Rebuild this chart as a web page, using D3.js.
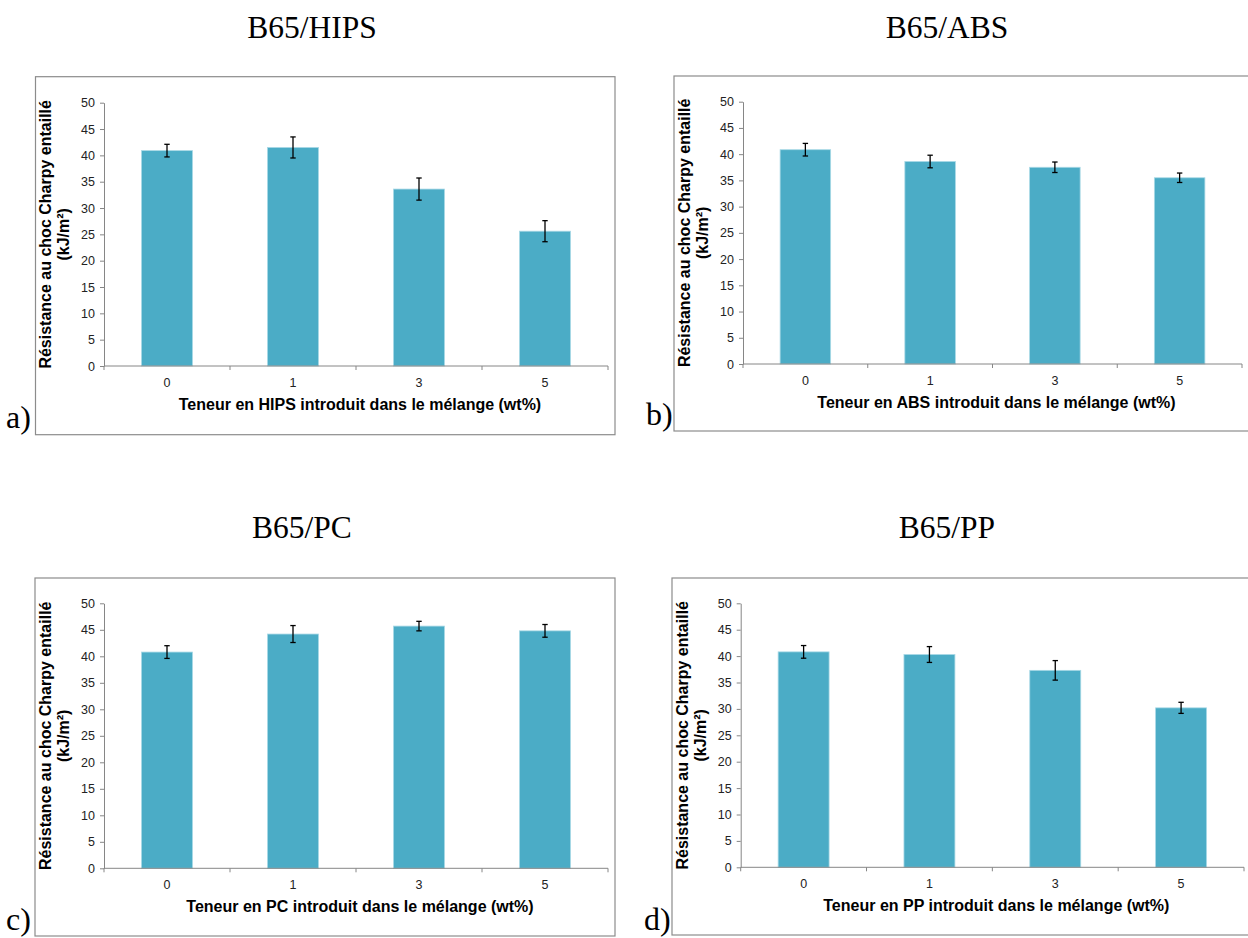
<!DOCTYPE html>
<html>
<head>
<meta charset="utf-8">
<script src="https://cdn.jsdelivr.net/npm/d3@7"></script>
<style>
  html, body { margin: 0; padding: 0; background: #fff; }
  svg { display: block; }
</style>
</head>
<body>
<svg id="chart" width="1248" height="938"></svg>
<script>
// ---- data ----
const categories = ["0", "1", "3", "5"];
const panelTitles = ["B65/HIPS", "B65/ABS", "B65/PC", "B65/PP"];
const panelLetters = ["a)", "b)", "c)", "d)"];
const blendNames = ["HIPS", "ABS", "PC", "PP"];
const hipsValues = [40.9, 41.5, 33.6, 25.6];
const hipsErrors = [1.2, 2.0, 2.1, 2.0];
const absValues = [40.85, 38.6, 37.5, 35.5];
const absErrors = [1.2, 1.2, 1.0, 0.9];
const pcValues = [40.8, 44.2, 45.7, 44.8];
const pcErrors = [1.2, 1.6, 0.9, 1.2];
const ppValues = [40.8, 40.3, 37.3, 30.2];
const ppErrors = [1.2, 1.5, 1.85, 1.05];
const yTicks = [0, 5, 10, 15, 20, 25, 30, 35, 40, 45, 50];
const yTitle1 = "Résistance au choc Charpy entaillé";
const yTitle2 = "(kJ/m²)";

const seriesValues = [hipsValues, absValues, pcValues, ppValues];
const seriesErrors = [hipsErrors, absErrors, pcErrors, ppErrors];

// ---- layout ----
const layout = [
  { frame: [35.5, 76.7, 579.5, 358], plot: [104, 102.7, 608, 366], titleX: 312, titleY: 38, letterX: 6, letterY: 428 },
  { frame: [674, 76, 580, 355], plot: [743, 101.7, 1242, 364], titleX: 947, titleY: 38, letterX: 646, letterY: 425 },
  { frame: [35, 578, 580, 358], plot: [104, 603.3, 608, 868.3], titleX: 302, titleY: 538, letterX: 6, letterY: 930 },
  { frame: [672, 578, 580, 357], plot: [740.7, 603.3, 1244, 867.3], titleX: 947, titleY: 538, letterX: 644, letterY: 930 }
];

const svg = d3.select("#chart");
const sans = "'Liberation Sans', Arial, sans-serif";
const serif = "'Liberation Serif', 'Times New Roman', serif";

layout.forEach((L, i) => {
  const g = svg.append("g");
  const [fx, fy, fw, fh] = L.frame;
  const [x0, y0, x1, y1] = L.plot;

  // frame
  g.append("rect").attr("x", fx).attr("y", fy).attr("width", fw).attr("height", fh)
    .attr("fill", "none").attr("stroke", "#8c8c8c").attr("stroke-width", 1.2);

  // panel title
  g.append("text").attr("x", L.titleX).attr("y", L.titleY)
    .attr("text-anchor", "middle").attr("font-family", serif).attr("font-size", 31.5)
    .attr("fill", "#000").text(panelTitles[i]);

  // panel letter
  g.append("text").attr("x", L.letterX).attr("y", L.letterY)
    .attr("font-family", serif).attr("font-size", 32)
    .attr("fill", "#000").text(panelLetters[i]);

  const x = d3.scaleBand().domain(categories).range([x0, x1])
    .paddingInner(0.595).paddingOuter(0.2975);
  const y = d3.scaleLinear().domain([0, 50]).range([y1, y0]);

  // bars
  g.selectAll("rect.bar").data(categories).enter().append("rect")
    .attr("class", "bar")
    .attr("x", c => x(c))
    .attr("width", x.bandwidth())
    .attr("y", (c, k) => y(seriesValues[i][k]))
    .attr("height", (c, k) => y(0) - y(seriesValues[i][k]))
    .attr("fill", "#4bacc6")
    .attr("stroke", "#a9d9e6").attr("stroke-width", 0.8);

  // error bars
  const eb = g.selectAll("g.err").data(categories).enter().append("g").attr("class", "err");
  const cx = c => x(c) + x.bandwidth() / 2;
  eb.append("line")
    .attr("x1", cx).attr("x2", cx)
    .attr("y1", (c, k) => y(seriesValues[i][k] + seriesErrors[i][k]))
    .attr("y2", (c, k) => y(seriesValues[i][k] - seriesErrors[i][k]))
    .attr("stroke", "#000").attr("stroke-width", 1.3);
  [1, -1].forEach(s => {
    eb.append("line")
      .attr("x1", c => cx(c) - 2.7).attr("x2", c => cx(c) + 2.7)
      .attr("y1", (c, k) => y(seriesValues[i][k] + s * seriesErrors[i][k]))
      .attr("y2", (c, k) => y(seriesValues[i][k] + s * seriesErrors[i][k]))
      .attr("stroke", "#000").attr("stroke-width", 1.3);
  });

  // y axis
  const yAxis = d3.axisLeft(y).tickValues(yTicks).tickSize(4).tickSizeOuter(0).tickPadding(5);
  const ya = g.append("g").attr("transform", `translate(${x0},0)`).call(yAxis);
  ya.select(".domain").attr("stroke", "#868686");
  ya.selectAll(".tick line").attr("stroke", "#868686");
  ya.selectAll(".tick text").attr("font-family", sans).attr("font-size", 12.5).attr("fill", "#222");

  // x axis: tick marks at band boundaries
  const boundaries = d3.range(categories.length + 1).map(k => x0 + k * (x1 - x0) / categories.length);
  const xa = g.append("g");
  xa.append("line").attr("x1", x0).attr("x2", x1).attr("y1", y1).attr("y2", y1)
    .attr("stroke", "#868686").attr("stroke-width", 1);
  xa.selectAll("line.bt").data(boundaries).enter().append("line").attr("class", "bt")
    .attr("x1", d => d).attr("x2", d => d).attr("y1", y1).attr("y2", y1 + 4)
    .attr("stroke", "#868686");
  xa.selectAll("text").data(categories).enter().append("text")
    .attr("x", cx).attr("y", y1 + 21)
    .attr("text-anchor", "middle").attr("font-family", sans).attr("font-size", 12.5)
    .attr("fill", "#222").text(c => c);

  // x title
  g.append("text").attr("x", (x0 + x1) / 2 + 4).attr("y", y1 + 44)
    .attr("text-anchor", "middle").attr("font-family", sans).attr("font-weight", "bold")
    .attr("font-size", 16).attr("fill", "#000")
    .text(`Teneur en ${blendNames[i]} introduit dans le mélange (wt%)`);

  // y title (two lines)
  const ym = (y0 + y1) / 2;
  const yt = g.append("text").attr("transform", `translate(${x0 - 53},${ym}) rotate(-90)`)
    .attr("text-anchor", "middle").attr("font-family", sans).attr("font-weight", "bold")
    .attr("font-size", 16).attr("fill", "#000");
  yt.append("tspan").attr("x", 0).attr("dy", 0).text(yTitle1);
  yt.append("tspan").attr("x", 0).attr("dy", 18).text(yTitle2);
});
</script>
</body>
</html>
